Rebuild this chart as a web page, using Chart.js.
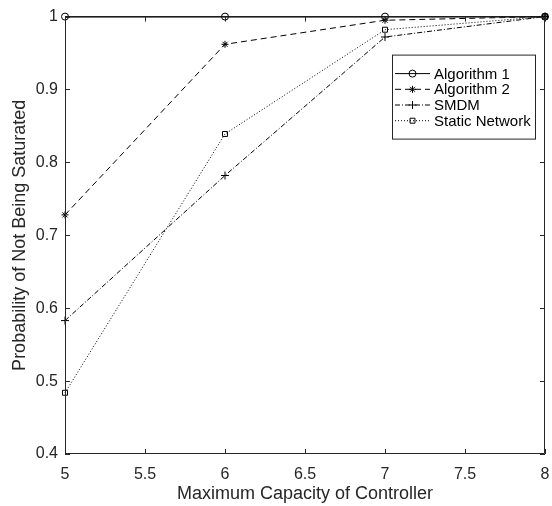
<!DOCTYPE html>
<html>
<head>
<meta charset="utf-8">
<style>
  html, body { margin: 0; padding: 0; background: #fff; }
  canvas { display: block; }
</style>
<script src="https://cdn.jsdelivr.net/npm/chart.js@4/dist/chart.umd.min.js"></script>
</head>
<body>
<canvas id="capChart" width="552" height="506"></canvas>
<script>
// values
const capacities = [5, 6, 7, 8];
const algorithm1 = [1, 1, 1, 1];
const algorithm2 = [0.728, 0.962, 0.995, 1];
const smdm = [0.583, 0.782, 0.972, 1];
const staticNetwork = [0.484, 0.839, 0.982, 1];

const seriesNames = ['Algorithm 1', 'Algorithm 2', 'SMDM', 'Static Network'];
const xTicks = [5, 5.5, 6, 6.5, 7, 7.5, 8];
const yTicks = [0.4, 0.5, 0.6, 0.7, 0.8, 0.9, 1];

const FONT = '"Liberation Sans", Arial, Helvetica, sans-serif';
const AXIS = '#262626';

function toPoints(values) {
  return capacities.map((c, i) => ({x: c, y: values[i]}));
}

function makeSet(label, values, dash, style, radius) {
  return {
    label: label,
    data: toPoints(values),
    borderColor: '#000',
    borderWidth: 1,
    borderDash: dash,
    pointStyle: style,
    pointRadius: radius,
    pointHoverRadius: radius,
    pointBorderColor: '#000',
    pointBackgroundColor: 'rgba(0,0,0,0)',
    pointBorderWidth: 1,
    fill: false,
    tension: 0,
    clip: false
  };
}

// draws a single open marker
function marker(ctx, style, r, x, y) {
  ctx.fillStyle = 'rgba(0,0,0,0)';
  ctx.strokeStyle = '#000';
  if (Chart.helpers && Chart.helpers.drawPoint) {
    Chart.helpers.drawPoint(ctx, {pointStyle: style, radius: r, rotation: 0, borderWidth: 1}, x, y);
    return;
  }
  ctx.beginPath();
  if (style === 'circle') {
    ctx.arc(x, y, r, 0, Math.PI * 2);
  } else if (style === 'rect') {
    const s = r * Math.SQRT1_2;
    ctx.rect(x - s, y - s, 2 * s, 2 * s);
  } else {
    ctx.moveTo(x - r, y); ctx.lineTo(x + r, y);
    ctx.moveTo(x, y - r); ctx.lineTo(x, y + r);
    if (style === 'star') {
      const d = r * Math.SQRT1_2;
      ctx.moveTo(x - d, y - d); ctx.lineTo(x + d, y + d);
      ctx.moveTo(x - d, y + d); ctx.lineTo(x + d, y - d);
    }
  }
  ctx.stroke();
}

// MATLAB-like box, inward ticks and legend
const matlabBox = {
  id: 'matlabBox',
  afterDraw(chart) {
    const ctx = chart.ctx;
    const a = chart.chartArea;
    const xs = chart.scales.x, ys = chart.scales.y;
    const tl = 5;
    ctx.save();
    ctx.strokeStyle = AXIS;
    ctx.lineWidth = 1;
    ctx.setLineDash([]);
    ctx.beginPath();
    ctx.rect(a.left + 0.5, a.top + 0.5, a.right - a.left - 1, a.bottom - a.top - 1);
    xTicks.forEach(v => {
      const px = Math.round(xs.getPixelForValue(v)) + 0.5;
      ctx.moveTo(px, a.bottom); ctx.lineTo(px, a.bottom - tl);
      ctx.moveTo(px, a.top); ctx.lineTo(px, a.top + tl);
    });
    yTicks.forEach(v => {
      const py = Math.round(ys.getPixelForValue(v)) + 0.5;
      ctx.moveTo(a.left, py); ctx.lineTo(a.left + tl, py);
      ctx.moveTo(a.right, py); ctx.lineTo(a.right - tl, py);
    });
    ctx.stroke();

    // legend
    const lx = a.right - 153, ly = a.top + 38, lw = 143, lh = 84;
    ctx.fillStyle = '#fff';
    ctx.fillRect(lx, ly, lw, lh);
    ctx.strokeRect(lx + 0.5, ly + 0.5, lw, lh);
    ctx.font = '15px ' + FONT;
    ctx.textBaseline = 'middle';
    ctx.textAlign = 'left';
    chart.data.datasets.forEach((ds, i) => {
      const ry = ly + 19 + i * 15.7;
      ctx.strokeStyle = '#000';
      ctx.setLineDash(ds.borderDash);
      ctx.beginPath();
      ctx.moveTo(lx + 3, ry);
      ctx.lineTo(lx + 38, ry);
      ctx.stroke();
      ctx.setLineDash([]);
      marker(ctx, ds.pointStyle, ds.pointRadius, lx + 20.5, ry);
      ctx.fillStyle = '#000';
      ctx.fillText(ds.label, lx + 42, ry + 1);
    });
    ctx.restore();
  }
};

const fmt = v => String(Number(Number(v).toFixed(2)));

new Chart(document.getElementById('capChart').getContext('2d'), {
  type: 'line',
  data: {
    datasets: [
      makeSet(seriesNames[0], algorithm1, [], 'circle', 3.5),
      makeSet(seriesNames[1], algorithm2, [6, 4], 'star', 3.5),
      makeSet(seriesNames[2], smdm, [5, 2, 1, 2], 'cross', 4),
      makeSet(seriesNames[3], staticNetwork, [1, 2], 'rect', 3.5)
    ]
  },
  options: {
    responsive: false,
    animation: false,
    events: [],
    layout: { padding: { top: 16, right: 7, left: 0, bottom: 0 } },
    plugins: {
      legend: { display: false },
      tooltip: { enabled: false }
    },
    scales: {
      x: {
        type: 'linear',
        min: 5,
        max: 8,
        afterBuildTicks: s => { s.ticks = xTicks.map(v => ({value: v})); },
        afterFit: s => { s.height = 52; s.paddingRight = 0; s.paddingLeft = 0; },
        grid: { display: false, drawTicks: false },
        border: { display: false },
        ticks: {
          padding: 11,
          color: AXIS,
          font: { family: FONT, size: 16 },
          maxRotation: 0,
          callback: fmt
        },
        title: {
          display: true,
          text: 'Maximum Capacity of Controller',
          color: AXIS,
          font: { family: FONT, size: 18 },
          padding: { top: 0, bottom: 1 }
        }
      },
      y: {
        type: 'linear',
        min: 0.4,
        max: 1,
        afterBuildTicks: s => { s.ticks = yTicks.map(v => ({value: v})); },
        afterFit: s => { s.width = 65; },
        grid: { display: false, drawTicks: false },
        border: { display: false },
        ticks: {
          padding: 7,
          color: AXIS,
          font: { family: FONT, size: 16 },
          callback: fmt
        },
        title: {
          display: true,
          text: 'Probability of Not Being Saturated',
          color: AXIS,
          font: { family: FONT, size: 18 },
          padding: { top: 9, bottom: 0 }
        }
      }
    }
  },
  plugins: [matlabBox]
});
</script>
</body>
</html>
